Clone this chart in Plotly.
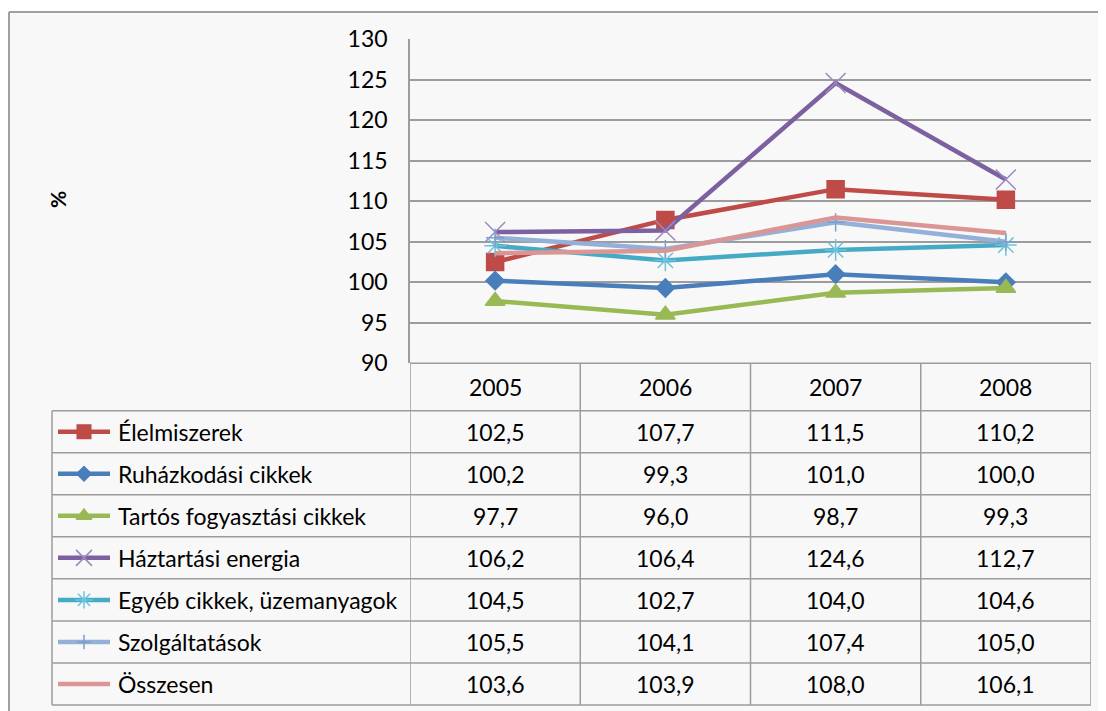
import plotly.graph_objects as go

# page draws the figure at an 8px body margin; size the figure to fit the window
OFF = 8
W, H = 1106 - OFF, 711 - OFF

years = ["2005", "2006", "2007", "2008"]
series_names = [
    "Élelmiszerek",
    "Ruházkodási cikkek",
    "Tartós fogyasztási cikkek",
    "Háztartási energia",
    "Egyéb cikkek, üzemanyagok",
    "Szolgáltatások",
    "Összesen",
]
elelmiszerek = [102.5, 107.7, 111.5, 110.2]
ruhazkodasi = [100.2, 99.3, 101.0, 100.0]
tartos = [97.7, 96.0, 98.7, 99.3]
haztartasi = [106.2, 106.4, 124.6, 112.7]
egyeb = [104.5, 102.7, 104.0, 104.6]
szolgaltatasok = [105.5, 104.1, 107.4, 105.0]
osszesen = [103.6, 103.9, 108.0, 106.1]
y_ticks = [90, 95, 100, 105, 110, 115, 120, 125, 130]

values = [elelmiszerek, ruhazkodasi, tartos, haztartasi, egyeb, szolgaltatasok, osszesen]

colors = ["#BE4B48", "#4A7EBB", "#98B954", "#7D60A0", "#46AAC5", "#93B0D8", "#DA9694"]
marker_line = ["#BE4B48", "#4A7EBB", "#98B954", "#9C88C0", "#6EC3DA", "#7E9FCC", "#DA9694"]
symbols = ["square", "diamond", "triangle-up", "x-thin", "asterisk", "cross-thin", None]
msizes = [17, 14, 17, 20, 18, 13, 0]

FONT = "Lato"
FS = 23
GRID = "#9C9C9C"

# layout geometry (window pixels)
plot_left, plot_right = 410, 1091
plot_top, plot_bottom = 39.3, 363.3
header_bottom = 410.7
table_bottom = 705.0
legend_left = 52
row_h = (table_bottom - header_bottom) / len(series_names)


def px(x):
    return (x - OFF) / W


def py(y):
    return 1 - (y - OFF) / H


fig = go.Figure()

for i, (name, vals) in enumerate(zip(series_names, values)):
    mk = dict(color=colors[i], size=msizes[i], line=dict(color=marker_line[i], width=1.5))
    if symbols[i]:
        mk["symbol"] = symbols[i]
        mode = "lines+markers"
    else:
        mode = "lines"
    fig.add_trace(go.Scatter(
        x=list(range(len(years))), y=vals, name=name, mode=mode,
        line=dict(color=colors[i], width=4.5), marker=mk,
        xaxis="x", yaxis="y", showlegend=False,
    ))

# legend samples in the table (pixel overlay axes)
for i, name in enumerate(series_names):
    cy = header_bottom + row_h * (i + 0.5)
    fig.add_trace(go.Scatter(
        x=[58, 110], y=[cy, cy], mode="lines",
        line=dict(color=colors[i], width=4.5),
        xaxis="x2", yaxis="y2", showlegend=False, hoverinfo="skip",
    ))
    if symbols[i]:
        fig.add_trace(go.Scatter(
            x=[84], y=[cy], mode="markers",
            marker=dict(symbol=symbols[i], color=colors[i], size=msizes[i] * 0.8,
                        line=dict(color=marker_line[i], width=1.5)),
            xaxis="x2", yaxis="y2", showlegend=False, hoverinfo="skip",
        ))

shapes = []
# outer chart area (stays inside the paper)
shapes.append(dict(type="rect", xref="paper", yref="paper",
                   x0=px(9), x1=1, y0=0, y1=py(12),
                   fillcolor="#F8F8F8", line=dict(width=0), layer="below"))
border = dict(color="#A0A0A0", width=2)
shapes.append(dict(type="line", xref="paper", yref="paper", x0=px(9), x1=1, y0=py(12), y1=py(12), line=border))
shapes.append(dict(type="line", xref="paper", yref="paper", x0=px(9), x1=px(9), y0=0, y1=py(12), line=border))

line_style = dict(color=GRID, width=1.5)
# table horizontal lines
shapes.append(dict(type="line", xref="paper", yref="paper", x0=px(plot_left), x1=px(plot_right),
                   y0=py(plot_bottom), y1=py(plot_bottom), line=line_style))
for r in range(len(series_names) + 1):
    yy = header_bottom + r * row_h
    shapes.append(dict(type="line", xref="paper", yref="paper", x0=px(legend_left), x1=px(plot_right),
                       y0=py(yy), y1=py(yy), line=line_style))
# table vertical lines (column boundaries via x scale)
for c in range(len(years) + 1):
    shapes.append(dict(type="line", xref="x", yref="paper", x0=c - 0.5, x1=c - 0.5,
                       y0=py(plot_bottom), y1=py(table_bottom), line=line_style))
shapes.append(dict(type="line", xref="paper", yref="paper", x0=px(legend_left), x1=px(legend_left),
                   y0=py(header_bottom), y1=py(table_bottom), line=line_style))

annotations = []
for c, yr in enumerate(years):
    annotations.append(dict(x=c, xref="x", y=py((plot_bottom + header_bottom) / 2), yref="paper",
                            text=yr, showarrow=False, xanchor="center", yanchor="middle",
                            font=dict(family=FONT, size=FS, color="black")))
for i, (name, vals) in enumerate(zip(series_names, values)):
    cy = py(header_bottom + row_h * (i + 0.5))
    annotations.append(dict(x=px(116), xref="paper", y=cy, yref="paper", text=name, showarrow=False,
                            xanchor="left", yanchor="middle",
                            font=dict(family=FONT, size=FS, color="black")))
    for c, v in enumerate(vals):
        annotations.append(dict(x=c, xref="x", y=cy, yref="paper",
                                text=f"{v:.1f}".replace(".", ","), showarrow=False,
                                xanchor="center", yanchor="middle",
                                font=dict(family=FONT, size=FS, color="black")))
annotations.append(dict(x=px(57), y=py(200), xref="paper", yref="paper", text="<b>%</b>",
                        textangle=-90, showarrow=False, xanchor="center", yanchor="middle",
                        font=dict(family=FONT, size=21, color="black")))

fig.update_layout(
    width=W, height=H,
    margin=dict(l=0, r=0, t=0, b=0, pad=0, autoexpand=False),
    paper_bgcolor="white",
    plot_bgcolor="rgba(0,0,0,0)",
    showlegend=False,
    xaxis=dict(domain=[px(plot_left), px(plot_right)], range=[-0.5, len(years) - 0.5],
               showgrid=False, showticklabels=False, zeroline=False, showline=False, fixedrange=True),
    yaxis=dict(domain=[py(plot_bottom), py(plot_top)], range=[y_ticks[0], y_ticks[-1]],
               tickvals=y_ticks, ticktext=[str(t) for t in y_ticks],
               showgrid=True, gridcolor=GRID, gridwidth=1.5, zeroline=False,
               showline=True, linecolor=GRID, linewidth=1.5,
               tickfont=dict(family=FONT, size=FS, color="black"),
               ticklabelstandoff=16, ticks="", fixedrange=True),
    xaxis2=dict(domain=[0, 1], range=[OFF, OFF + W], visible=False, anchor="y2", fixedrange=True),
    yaxis2=dict(domain=[0, 1], range=[OFF + H, OFF], visible=False, anchor="x2", fixedrange=True),
    shapes=shapes,
    annotations=annotations,
)

fig.write_html("out.html")
